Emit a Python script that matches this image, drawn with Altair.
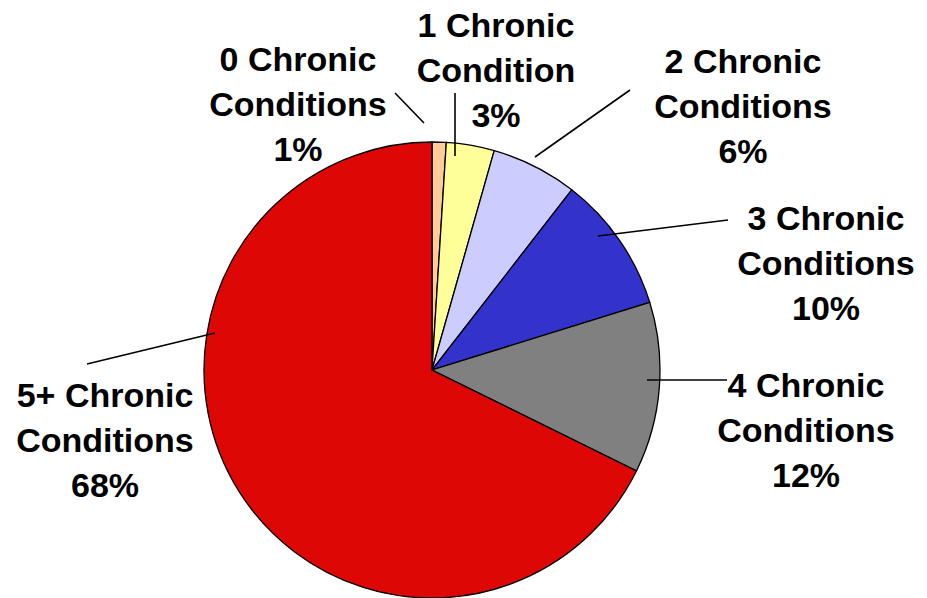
import altair as alt
import pandas as pd

# ---- data ----
categories = ["0", "1", "2", "3", "4", "5+"]
shares = [1.0, 3.4, 6.1, 9.7, 12.1, 67.7]          # slice sizes
pct_labels = ["1%", "3%", "6%", "10%", "12%", "68%"]
name_lines = [
    "0 Chronic\nConditions",
    "1 Chronic\nCondition",
    "2 Chronic\nConditions",
    "3 Chronic\nConditions",
    "4 Chronic\nConditions",
    "5+ Chronic\nConditions",
]
colors = ["#FFCC99", "#FFFF99", "#CCCCFF", "#3333CC", "#808080", "#DD0806"]

# ---- layout (pixels in chart space) ----
CX, CY, R = 424, 362, 228
label_x = [290, 488, 735, 818, 798, 97]
label_y = [63, 29, 65, 222, 389, 399]          # first-line baselines
leader_start = [(387, 85), (447, 85), (622, 82), (720, 212), (719, 372), (79, 356)]
leader_end = [(416, 115), (447, 148), (527, 149), (590, 228), (639, 372), (207, 325)]

pie_df = pd.DataFrame({
    "category": categories,
    "share": shares,
    "order": list(range(len(categories))),
})

label_df = pd.DataFrame({
    "text": [f"{n}\n{p}" for n, p in zip(name_lines, pct_labels)],
    "x": label_x,
    "y": label_y,
})

line_df = pd.DataFrame({
    "x": [s[0] for s in leader_start],
    "y": [s[1] for s in leader_start],
    "x2": [e[0] for e in leader_end],
    "y2": [e[1] for e in leader_end],
})

pie = alt.Chart(pie_df).mark_arc(
    outerRadius=R, stroke="black", strokeWidth=1.3
).encode(
    theta=alt.Theta("share:Q", stack=True),
    order=alt.Order("order:Q"),
    color=alt.Color("category:N", scale=alt.Scale(domain=categories, range=colors), legend=None),
    x=alt.value(CX),
    y=alt.value(CY),
)

leaders = alt.Chart(line_df).mark_rule(color="black", strokeWidth=1.6).encode(
    x=alt.X("x:Q", scale=None),
    y=alt.Y("y:Q", scale=None),
    x2="x2:Q",
    y2="y2:Q",
)

labels = alt.Chart(label_df).mark_text(
    font="Liberation Sans, Arial, sans-serif",
    fontWeight="bold",
    fontSize=34,
    lineBreak="\n",
    lineHeight=45,
    align="center",
    baseline="alphabetic",
    color="black",
).encode(
    x=alt.X("x:Q", scale=None),
    y=alt.Y("y:Q", scale=None),
    text="text:N",
)

chart = alt.layer(pie, leaders, labels).properties(
    width=911, height=590,
    autosize=alt.AutoSizeParams(type="none"),
    padding=0,
    view=alt.ViewBackground(stroke="transparent", strokeWidth=0, fill="white"),
    background="white",
)

chart.save("out.html", embed_options={"renderer": "svg", "actions": False})
